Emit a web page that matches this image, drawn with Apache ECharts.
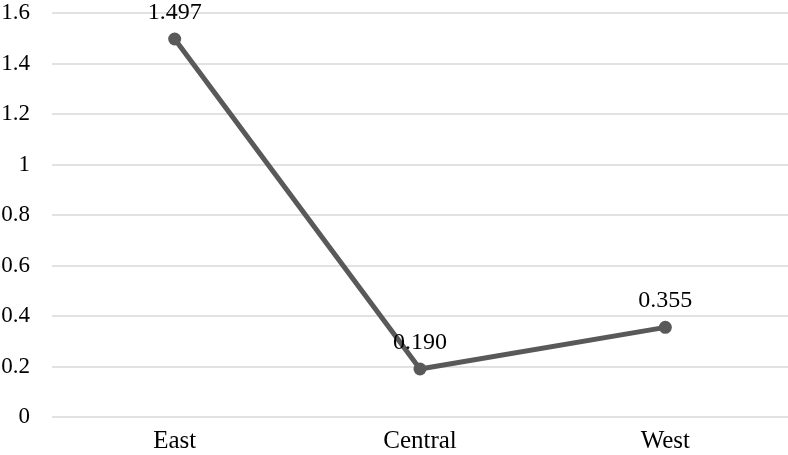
<!DOCTYPE html>
<html style="height: 100%">
<head>
  <meta charset="utf-8">
</head>
<body style="height: 100%; margin: 0">
  <div id="container" style="width: 788px; height: 455px;"></div>
  <script type="text/javascript" src="https://cdn.jsdelivr.net/npm/echarts@6/dist/echarts.min.js"></script>
  <script type="text/javascript">
    var regions = ['East', 'Central', 'West'];
    var values = [1.497, 0.190, 0.355];

    var chart = echarts.init(document.getElementById('container'));
    var font = '"Liberation Serif", "Times New Roman", serif';

    var option = {
      animation: false,
      grid: { left: 52, right: 0, top: 13, bottom: 38, outerBoundsMode: 'none', containLabel: false },
      xAxis: {
        type: 'category',
        data: regions,
        axisLine: { show: false },
        axisTick: { show: false },
        axisLabel: { color: '#000', fontFamily: font, fontSize: 25, margin: 12 }
      },
      yAxis: {
        type: 'value',
        min: 0,
        max: 1.6,
        interval: 0.2,
        axisLine: { show: false },
        axisTick: { show: false },
        splitLine: { lineStyle: { color: '#d9d9d9', width: 1.5 } },
        axisLabel: {
          color: '#000', fontFamily: font, fontSize: 23, margin: 22,
          formatter: function (v) { return String(Math.round(v * 10) / 10); }
        }
      },
      series: [{
        type: 'line',
        data: values,
        symbol: 'circle',
        symbolSize: 13,
        lineStyle: { color: '#595959', width: 5 },
        itemStyle: { color: '#595959' },
        label: {
          show: true,
          position: 'top',
          distance: 8,
          color: '#000',
          fontFamily: font,
          fontSize: 24,
          formatter: function (p) { return p.value.toFixed(3); }
        }
      }]
    };
    chart.setOption(option);
  </script>
</body>
</html>
